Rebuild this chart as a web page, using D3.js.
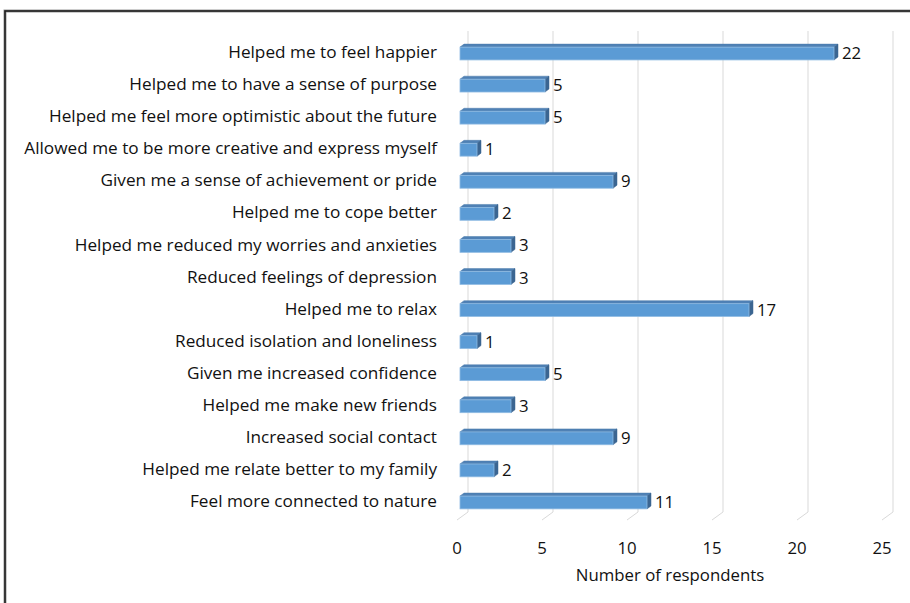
<!DOCTYPE html>
<html>
<head>
<meta charset="utf-8">
<script src="https://cdn.jsdelivr.net/npm/d3@7/dist/d3.min.js"></script>
<style>
  html, body { margin: 0; padding: 0; background: #fff; }
  svg { display: block; }
  text { font-family: "Open Sans", "Noto Sans", sans-serif; fill: #111; }
</style>
</head>
<body>
<svg id="chart" width="910" height="603"></svg>
<script>
// Reported benefits, top to bottom
const categories = [
  "Helped me to feel happier",
  "Helped me to have a sense of purpose",
  "Helped me feel more optimistic about the future",
  "Allowed me to be more creative and express myself",
  "Given me a sense of achievement or pride",
  "Helped me to cope better",
  "Helped me reduced my worries and anxieties",
  "Reduced feelings of depression",
  "Helped me to relax",
  "Reduced isolation and loneliness",
  "Given me increased confidence",
  "Helped me make new friends",
  "Increased social contact",
  "Helped me relate better to my family",
  "Feel more connected to nature"
];
const respondents = [22, 5, 5, 1, 9, 2, 3, 3, 17, 1, 5, 3, 9, 2, 11];
const tickValues = [0, 5, 10, 15, 20, 25];
const axisTitle = "Number of respondents";

const svg = d3.select("#chart");

// Outer frame
svg.append("rect")
  .attr("x", 5).attr("y", 11).attr("width", 920).attr("height", 620)
  .attr("fill", "none").attr("stroke", "#9a9a9a").attr("stroke-width", 3);
svg.append("rect")
  .attr("x", 5).attr("y", 11).attr("width", 920).attr("height", 620)
  .attr("fill", "none").attr("stroke", "#1e1e1e").attr("stroke-width", 1.6);

// Plot geometry: front floor edge and back wall offset (3D depth)
const front = { x0: 457, y: 520 };
const depth = { dx: 11, dy: -8 };
const wallTop = 31;

const x = d3.scaleLinear().domain([0, 25]).range([front.x0, front.x0 + 425]);
const y = d3.scaleBand().domain(categories).range([37.5, 518.5]).paddingInner(0.6).paddingOuter(0.3);

// Back-wall gridlines and floor diagonals
const grid = svg.append("g").attr("stroke", "#d9d9d9").attr("stroke-width", 1).attr("fill", "none");
tickValues.forEach(t => {
  const bx = x(t) + depth.dx, by = front.y + depth.dy;
  grid.append("line").attr("x1", bx).attr("x2", bx).attr("y1", wallTop).attr("y2", by);
  grid.append("line").attr("x1", bx).attr("x2", x(t)).attr("y1", by).attr("y2", front.y);
});

// Tick labels
svg.append("g").selectAll("text").data(tickValues).join("text")
  .attr("x", d => x(d)).attr("y", 554)
  .attr("text-anchor", "middle").attr("font-size", 16.8)
  .text(d => d);

svg.append("text")
  .attr("x", 670).attr("y", 581).attr("text-anchor", "middle")
  .attr("font-size", 16.8).text(axisTitle);

// 3D bars
const bx0 = 3;           // bar front face starts slightly inside the floor
const off = { dx: 4, dy: -3 };
const bars = svg.append("g");
categories.forEach((c, i) => {
  const v = respondents[i];
  const x0 = x(0) + bx0, x1 = x(v) + bx0;
  const y0 = y(c), h = y.bandwidth();
  const g = bars.append("g");
  // top face
  g.append("path")
    .attr("d", `M${x0},${y0} L${x0 + off.dx},${y0 + off.dy} L${x1 + off.dx},${y0 + off.dy} L${x1},${y0} Z`)
    .attr("fill", "#4f81b5").attr("stroke", "#4a7aab").attr("stroke-width", 0.5);
  // right face
  g.append("path")
    .attr("d", `M${x1},${y0} L${x1 + off.dx},${y0 + off.dy} L${x1 + off.dx},${y0 + h + off.dy} L${x1},${y0 + h} Z`)
    .attr("fill", "#3b6591").attr("stroke", "#3b6591").attr("stroke-width", 0.5);
  // front face
  g.append("rect")
    .attr("x", x0).attr("y", y0).attr("width", x1 - x0).attr("height", h)
    .attr("fill", "#5b9bd5").attr("stroke", "#8fbbe3").attr("stroke-width", 0.8);
  // value label
  g.append("text")
    .attr("x", x1 + off.dx + 4).attr("y", y0 + h / 2 + 1)
    .attr("dominant-baseline", "middle").attr("font-size", 16.8)
    .text(v);
});

// Category labels
svg.append("g").selectAll("text").data(categories).join("text")
  .attr("x", 437).attr("y", d => y(d) + y.bandwidth() / 2)
  .attr("text-anchor", "end").attr("dominant-baseline", "middle")
  .attr("font-size", 17.2)
  .text(d => d);
</script>
</body>
</html>
